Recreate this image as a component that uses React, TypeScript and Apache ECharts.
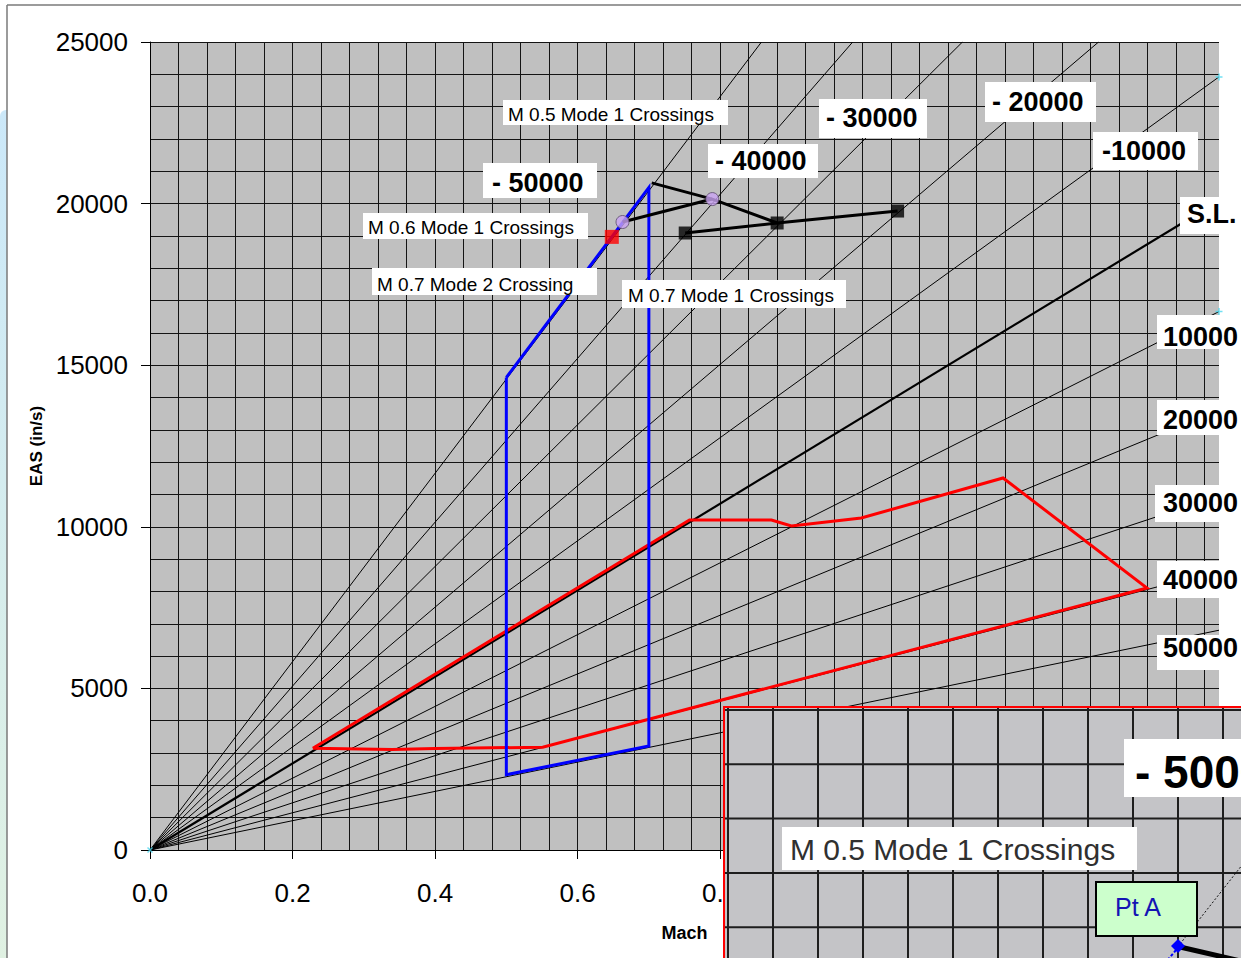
import React, { useEffect, useRef } from 'react';
import * as echarts from 'echarts';

const FONT = '"Liberation Sans", Arial, Helvetica, sans-serif';

// ---- Data ----
const altitudeNames = ['- 50000', '- 40000', '- 30000', '- 20000', '-10000', 'S.L.', '10000', '20000', '30000', '40000', '50000'];
const altitudeEndMach = [0.858, 0.986, 1.14, 1.331, 1.5, 1.5, 1.5, 1.5, 1.5, 1.5, 1.5];
const altitudeEndEAS = [25000, 25000, 25000, 25000, 23920, 20090, 16660, 13620, 10950, 8640, 6800];

const redEnvelopeMach = [0.2285, 0.34, 0.4, 0.551, 1.399, 1.197, 0.998, 0.9, 0.872, 0.757, 0.2285];
const redEnvelopeEAS = [3150, 3110, 3140, 3180, 8106, 11510, 10272, 10025, 10210, 10210, 3150];

const blueEnvelopeMach = [0.5, 0.7, 0.7, 0.5, 0.5];
const blueEnvelopeEAS = [14620, 20500, 3220, 2330, 14620];

const m05LineMach = [0.704, 0.789, 0.88];
const m05LineEAS = [20640, 20140, 19400];
const m06LineMach = [0.663, 0.789];
const m06LineEAS = [19430, 20140];
const m07Mode1Mach = [0.751, 0.88, 1.049];
const m07Mode1EAS = [19090, 19400, 19770];

const circleMach = [0.663, 0.789];
const circleEAS = [19430, 20140];
const squareMach = [0.751, 0.88, 1.049];
const squareEAS = [19090, 19400, 19770];
const mode2Mach = [0.648];
const mode2EAS = [18970];

const endMarkMach = [0, 1.5, 1.5];
const endMarkEAS = [0, 23920, 16660];

const crossingLabels = ['M 0.5 Mode 1 Crossings', 'M 0.6 Mode 1 Crossings', 'M 0.7 Mode 2 Crossing', 'M 0.7 Mode 1 Crossings'];

// ---- Layout (pixels) for annotation boxes ----
// [x, y, w, h, textX, textCenterY]
const altitudeBoxes = [
  [483, 163, 114, 35, 492, 183],
  [708, 144, 110, 34, 715, 161],
  [819, 99, 108, 39, 826, 118],
  [985, 82, 111, 40, 992, 102],
  [1093, 132, 105, 38, 1102, 151],
  [1180, 197, 61, 37, 1187, 214],
  [1157, 315, 84, 34, 1163, 337],
  [1157, 400, 84, 35, 1163, 420],
  [1155, 485, 86, 37, 1163, 503],
  [1157, 561, 84, 37, 1163, 580],
  [1157, 635, 84, 35, 1163, 648],
];
const crossingBoxes = [
  [503, 100, 225, 25, 508, 114],
  [363, 213, 225, 26, 368, 227],
  [372, 268, 225, 27, 377, 284],
  [622, 280, 224, 28, 628, 295],
];

const zip = (a: number[], b: number[]) => a.map((v, i) => [v, b[i]]);

function buildGraphic() {
  const g: any[] = [];
  // slide background strip on the left and frame
  g.push({
    type: 'rect', z: 1, shape: { x: 0, y: 110, width: 7, height: 850, r: [6, 0, 0, 0] },
    style: { fill: new echarts.graphic.LinearGradient(0, 0, 0, 1, [
      { offset: 0, color: '#cbe8f9' }, { offset: 1, color: '#e0f1e2' }]) },
  });
  g.push({ type: 'line', z: 2, shape: { x1: 7, y1: 5, x2: 7, y2: 958 }, style: { stroke: '#7a7a7a', lineWidth: 1.5 } });
  g.push({ type: 'line', z: 2, shape: { x1: 7, y1: 5, x2: 1241, y2: 5 }, style: { stroke: '#7a7a7a', lineWidth: 1.5 } });

  altitudeNames.forEach((name, i) => {
    const [x, y, w, h, tx, ty] = altitudeBoxes[i];
    g.push({ type: 'rect', z: 100, shape: { x, y, width: w, height: h }, style: { fill: '#ffffff' } });
    g.push({ type: 'text', z: 101, x: tx, y: ty, style: { text: name, fontSize: 27, fontWeight: 'bold', fontFamily: FONT, fill: '#000', align: 'left', verticalAlign: 'middle' } });
  });
  crossingLabels.forEach((name, i) => {
    const [x, y, w, h, tx, ty] = crossingBoxes[i];
    g.push({ type: 'rect', z: 100, shape: { x, y, width: w, height: h }, style: { fill: '#ffffff' } });
    g.push({ type: 'text', z: 101, x: tx, y: ty, style: { text: name, fontSize: 19, fontFamily: FONT, fill: '#000', align: 'left', verticalAlign: 'middle' } });
  });

  // ---- magnified inset picture (bottom right) ----
  const ix = 724, iy = 707;
  g.push({ type: 'rect', z: 200, shape: { x: ix, y: iy, width: 540, height: 270 }, style: { fill: '#c4c4c7', stroke: 'none' } });
  for (let k = 0; k < 12; k++) {
    const x = 728 + k * 45;
    g.push({ type: 'line', z: 201, shape: { x1: x, y1: iy, x2: x, y2: 960 }, style: { stroke: '#1e1e1e', lineWidth: 2 } });
  }
  for (let k = 0; k < 5; k++) {
    const y = 710 + k * 54.3;
    g.push({ type: 'line', z: 201, shape: { x1: ix, y1: y, x2: 1245, y2: y }, style: { stroke: '#1e1e1e', lineWidth: 2 } });
  }
  g.push({ type: 'rect', z: 203, shape: { x: 782, y: 827, width: 355, height: 43 }, style: { fill: '#ffffff' } });
  g.push({ type: 'text', z: 204, x: 790, y: 849, style: { text: 'M 0.5 Mode 1 Crossings', fontSize: 30, fontFamily: FONT, fill: '#303030', align: 'left', verticalAlign: 'middle' } });
  g.push({ type: 'rect', z: 203, shape: { x: 1124, y: 739, width: 130, height: 58 }, style: { fill: '#ffffff' } });
  g.push({ type: 'text', z: 204, x: 1135, y: 772, style: { text: '- 50000', fontSize: 46, fontWeight: 'bold', fontFamily: FONT, fill: '#000', align: 'left', verticalAlign: 'middle' } });
  g.push({ type: 'line', z: 202, shape: { x1: 1180, y1: 944, x2: 1250, y2: 855 }, style: { stroke: '#111', lineWidth: 1, lineDash: [2, 2] } });
  g.push({ type: 'line', z: 202, shape: { x1: 1180, y1: 947, x2: 1245, y2: 962 }, style: { stroke: '#000', lineWidth: 5 } });
  g.push({ type: 'line', z: 202, shape: { x1: 1176, y1: 950, x2: 1166, y2: 962 }, style: { stroke: '#0000ff', lineWidth: 2, lineDash: [3, 2] } });
  g.push({ type: 'polygon', z: 205, shape: { points: [[1178, 939], [1185, 946], [1178, 953], [1171, 946]] }, style: { fill: '#0000ff' } });
  g.push({ type: 'rect', z: 206, shape: { x: 1096, y: 882, width: 101, height: 54 }, style: { fill: '#ccffcc', stroke: '#000', lineWidth: 2 } });
  g.push({ type: 'text', z: 207, x: 1115, y: 907, style: { text: 'Pt A', fontSize: 25, fontFamily: FONT, fill: '#1414b4', align: 'left', verticalAlign: 'middle' } });
  g.push({ type: 'rect', z: 208, shape: { x: ix, y: iy, width: 540, height: 270 }, style: { fill: 'none', stroke: '#ff0000', lineWidth: 2 } });
  return g;
}

function buildOption() {
  const fanSeries = altitudeNames.map((name, i) => ({
    type: 'line',
    name,
    data: [[0, 0], [altitudeEndMach[i], altitudeEndEAS[i]]],
    symbol: 'none',
    clip: true,
    silent: true,
    z: 2,
    lineStyle: { color: '#000', width: name === 'S.L.' ? 2.2 : 1 },
  }));

  const thick = (data: number[][], color: string, z = 4) => ({
    type: 'line', data, symbol: 'none', clip: true, silent: true, z,
    lineStyle: { color, width: 3, join: 'miter' },
  });

  return {
    animation: false,
    backgroundColor: '#ffffff',
    textStyle: { fontFamily: FONT },
    grid: { left: 150, right: 22, top: 42, bottom: 108, show: true, backgroundColor: '#c0c0c0', borderWidth: 0 },
    xAxis: [
      {
        type: 'value', min: 0, max: 1.5, interval: 0.04,
        axisLine: { show: false }, axisTick: { show: false }, axisLabel: { show: false },
        splitLine: { show: true, showMaxLine: false, lineStyle: { color: '#141414', width: 1 } },
      },
      {
        type: 'value', min: 0, max: 1.5, interval: 0.2, position: 'bottom',
        axisLine: { show: true, onZero: false, lineStyle: { color: '#000', width: 1 } },
        axisTick: { show: true, length: 9, lineStyle: { color: '#000' } },
        // labels beyond 0.8 sit under the inset picture
        axisLabel: { fontSize: 26, color: '#000', margin: 30, fontFamily: FONT, showMaxLabel: false, formatter: (v: number) => (v < 0.85 ? v.toFixed(1) : '') },
        splitLine: { show: false },
        name: 'Mach', nameLocation: 'middle', nameGap: 74,
        nameTextStyle: { fontSize: 18, fontWeight: 'bold', color: '#000', fontFamily: FONT },
      },
    ],
    yAxis: [
      {
        type: 'value', min: 0, max: 25000, interval: 1000,
        axisLine: { show: false }, axisTick: { show: false }, axisLabel: { show: false },
        splitLine: { show: true, lineStyle: { color: '#141414', width: 1 } },
      },
      {
        type: 'value', min: 0, max: 25000, interval: 5000, position: 'left',
        axisLine: { show: true, onZero: false, lineStyle: { color: '#000', width: 1 } },
        axisTick: { show: true, length: 9, lineStyle: { color: '#000' } },
        axisLabel: { fontSize: 26, color: '#000', margin: 22, fontFamily: FONT, formatter: (v: number) => String(v) },
        splitLine: { show: false },
        name: 'EAS (in/s)', nameLocation: 'middle', nameGap: 97, nameRotate: 90,
        nameTextStyle: { fontSize: 17, fontWeight: 'bold', color: '#000', fontFamily: FONT },
      },
    ],
    series: [
      ...fanSeries,
      thick(zip(redEnvelopeMach, redEnvelopeEAS), '#ff0000', 3),
      thick(zip(blueEnvelopeMach, blueEnvelopeEAS), '#0000ff', 4),
      thick(zip(m05LineMach, m05LineEAS), '#000', 5),
      thick(zip(m06LineMach, m06LineEAS), '#000', 5),
      thick(zip(m07Mode1Mach, m07Mode1EAS), '#000', 5),
      {
        type: 'scatter', data: zip(circleMach, circleEAS), symbol: 'circle', symbolSize: 13, z: 6, silent: true,
        itemStyle: { color: '#c9a3f2', borderColor: '#5a4a6a', borderWidth: 1 },
      },
      {
        type: 'scatter', data: zip(squareMach, squareEAS), symbol: 'rect', symbolSize: 13, z: 6, silent: true,
        itemStyle: { color: '#000' },
      },
      {
        type: 'scatter', data: zip(mode2Mach, mode2EAS), symbol: 'rect', symbolSize: 14, z: 6, silent: true,
        itemStyle: { color: '#ff0000' },
      },
      {
        type: 'scatter', z: 7, silent: true, clip: false,
        data: zip(endMarkMach, endMarkEAS).map((v, i) => ({ value: v, symbolRotate: i === 0 ? 45 : 0 })),
        symbol: 'path://M0,5L10,5M5,0L5,10', symbolSize: 7,
        itemStyle: { color: 'none', borderColor: '#4fd8f0', borderWidth: 1.5 },
      },
    ],
    graphic: buildGraphic(),
  };
}

export default function App() {
  const ref = useRef<HTMLDivElement>(null);
  useEffect(() => {
    if (!ref.current) return;
    const chart = echarts.init(ref.current, undefined, { renderer: 'svg' });
    chart.setOption(buildOption() as any);
    return () => chart.dispose();
  }, []);
  return (
    <div
      ref={ref}
      style={{ position: 'fixed', left: 0, top: 0, width: 1241, height: 958, background: '#fff', overflow: 'hidden' }}
    />
  );
}
